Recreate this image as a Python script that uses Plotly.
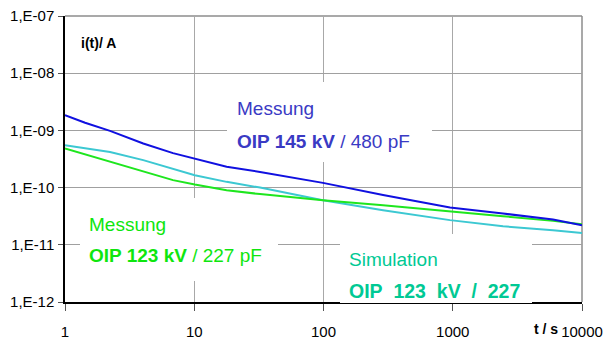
import plotly.graph_objects as go

# ---- data ----
t_blue = [1, 1.43, 2.23, 4.03, 6.85, 10.1, 17.8, 32.3, 99, 289, 952, 2449, 5970, 10000]
i_blue = [1.85e-9, 1.36e-9, 9.8e-10, 5.9e-10, 4.0e-10, 3.24e-10, 2.31e-10, 1.88e-10,
          1.21e-10, 7.4e-11, 4.5e-11, 3.52e-11, 2.77e-11, 2.2e-11]

t_green = [1, 1.66, 2.23, 4.03, 6.85, 10.1, 17.8, 32.3, 99, 289, 952, 2449, 5970, 10000]
i_green = [4.84e-10, 3.45e-10, 2.82e-10, 1.88e-10, 1.35e-10, 1.13e-10, 9.0e-11, 7.7e-11,
           6.0e-11, 4.9e-11, 3.9e-11, 3.16e-11, 2.62e-11, 2.29e-11]

t_cyan = [1, 2.23, 4.03, 6.85, 10.1, 17.8, 32.3, 99, 289, 952, 2449, 5970, 10000]
i_cyan = [5.52e-10, 4.2e-10, 3.02e-10, 2.16e-10, 1.65e-10, 1.26e-10, 1.0e-10, 6.0e-11,
          4.0e-11, 2.7e-11, 2.11e-11, 1.8e-11, 1.61e-11]

x_ticks = [1, 10, 100, 1000, 10000]
x_labels = ["1", "10", "100", "1000", "10000"]
y_ticks = [1e-12, 1e-11, 1e-10, 1e-9, 1e-8, 1e-7]
y_labels = ["1,E-12", "1,E-11", "1,E-10", "1,E-09", "1,E-08", "1,E-07"]

W, H = 611, 341
ML, MR, MT, MB = 65, 29, 16, 39
PW, PH = W - ML - MR, H - MT - MB
FONT = "Liberation Sans, Arial, sans-serif"


def P(px, py):
    return (px - ML) / PW, (H - MB - py) / PH


fig = go.Figure()
fig.add_trace(go.Scatter(x=t_cyan, y=i_cyan, mode="lines",
                         line=dict(color="#3cc8d2", width=2), showlegend=False))
fig.add_trace(go.Scatter(x=t_green, y=i_green, mode="lines",
                         line=dict(color="#1ee61e", width=2), showlegend=False))
fig.add_trace(go.Scatter(x=t_blue, y=i_blue, mode="lines",
                         line=dict(color="#1010e0", width=2), showlegend=False))

ann = []


def box(left, top, w, h):
    x, y = P(left, top)
    ann.append(dict(xref="paper", yref="paper", x=x, y=y, xanchor="left", yanchor="top",
                    text=" ", width=w, height=h, bgcolor="white", borderpad=0,
                    borderwidth=0, showarrow=False))


def txt(left, cy, text, color, size=19):
    x, y = P(left, cy)
    ann.append(dict(xref="paper", yref="paper", x=x, y=y, xanchor="left", yanchor="middle",
                    text=text, showarrow=False, borderpad=0, align="left",
                    font=dict(family=FONT, size=size, color=color)))


# white label boxes
box(227, 82, 205, 80)
box(80, 198, 198, 83)
box(340, 234, 192, 69)

BLUE_T = "#3a3ac4"
GREEN_T = "#0ee60e"
TEAL_T = "#00c994"
NB = "\u00a0"

txt(236, 108.5, "Messung", BLUE_T)
txt(236, 141, "<b>OIP 145 kV</b> / 480 pF", BLUE_T)
txt(88, 224.5, "Messung", GREEN_T)
txt(88, 255.5, "<b>OIP 123 kV</b> / 227 pF", GREEN_T)
txt(348, 259, "Simulation", TEAL_T)
txt(348, 291, "<b>OIP" + NB * 2 + "123" + NB * 2 + "kV" + NB * 2 + "/" + NB * 2 + "227</b>",
    TEAL_T, size=19.5)
txt(80, 43, "<b>i(t)/ A</b>", "black", size=14)
txt(533, 329, "<b>t / s</b>", "black", size=14)

# gray top / right frame
shapes = [
    dict(type="line", xref="paper", yref="paper", x0=0, x1=1, y0=1, y1=1,
         line=dict(color="#8c8c8c", width=1.5), layer="below"),
    dict(type="line", xref="paper", yref="paper", x0=1, x1=1, y0=0, y1=1,
         line=dict(color="#8c8c8c", width=1.5), layer="below"),
]

fig.update_layout(
    width=W, height=H,
    margin=dict(l=ML, r=MR, t=MT, b=MB, pad=0, autoexpand=False),
    paper_bgcolor="white", plot_bgcolor="white",
    font=dict(family=FONT, size=14, color="black"),
    annotations=ann,
    shapes=shapes,
    xaxis=dict(type="log", range=[0, 4], tickvals=x_ticks, ticktext=x_labels,
               automargin=False,
               showgrid=True, gridcolor="#a8a8a8", gridwidth=1,
               showline=True, linecolor="black", linewidth=1.5, mirror=False,
               ticks="outside", ticklen=7, tickcolor="#555", tickwidth=1,
               ticklabelstandoff=8, zeroline=False,
               tickfont=dict(family=FONT, size=15, color="black")),
    yaxis=dict(type="log", range=[-12, -7], tickvals=y_ticks, ticktext=y_labels,
               automargin=False,
               showgrid=True, gridcolor="#a0a0a0", gridwidth=1,
               showline=True, linecolor="black", linewidth=1.5, mirror=False,
               ticks="outside", ticklen=5, tickcolor="#555", tickwidth=1,
               ticklabelstandoff=1, zeroline=False,
               tickfont=dict(family=FONT, size=15, color="black")),
)

fig.write_html("out.html", config={"displayModeBar": False},
               post_script="document.body.style.margin='0';document.body.style.overflow='hidden';")
